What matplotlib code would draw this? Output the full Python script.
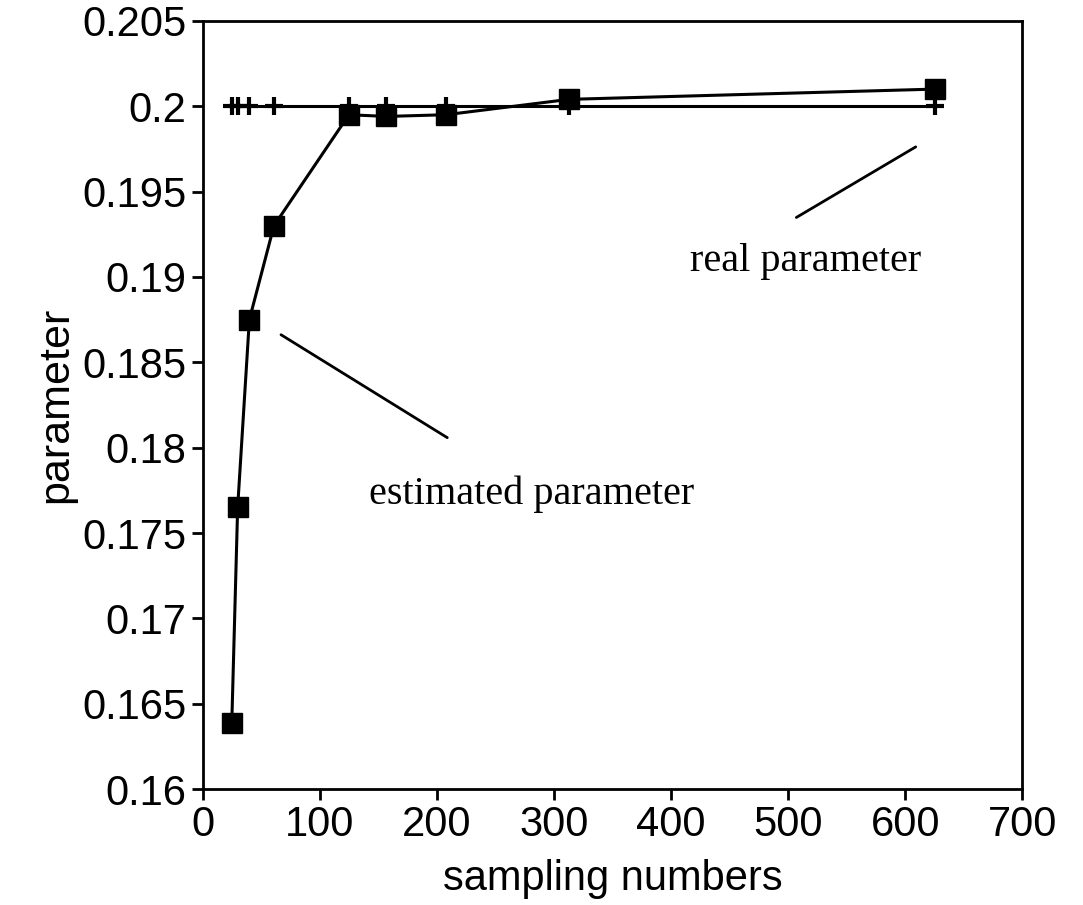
import matplotlib.pyplot as plt
import numpy as np

# sampling numbers (x) shared by both series
sampling = [25, 30, 40, 61, 125, 157, 208, 313, 625]
real_param = [0.2, 0.2, 0.2, 0.2, 0.2, 0.2, 0.2, 0.2, 0.2]
estimated = [0.1639, 0.1765, 0.1875, 0.1930, 0.1995, 0.1994, 0.1995, 0.2004, 0.2010]

x_ticks = [0, 100, 200, 300, 400, 500, 600, 700]
y_ticks = [0.16, 0.165, 0.17, 0.175, 0.18, 0.185, 0.19, 0.195, 0.2, 0.205]
y_tick_labels = ["0.16", "0.165", "0.17", "0.175", "0.18", "0.185",
                 "0.19", "0.195", "0.2", "0.205"]

plt.rcParams["font.family"] = ["Liberation Sans", "DejaVu Sans"]

fig = plt.figure(figsize=(10.83, 9.05), dpi=100)
ax = fig.add_axes([0.187, 0.128, 0.757, 0.849])

ax.plot(sampling, real_param, color="black", linewidth=2.2,
        marker="+", markersize=13, markeredgewidth=3)
ax.plot(sampling, estimated, color="black", linewidth=2.2,
        marker="s", markersize=14)

ax.set_xlim(0, 700)
ax.set_ylim(0.16, 0.205)
ax.set_xticks(x_ticks)
ax.set_yticks(y_ticks)
ax.set_yticklabels(y_tick_labels)
ax.tick_params(direction="out", length=8, width=2, labelsize=30,
               top=False, right=False)
for spine in ax.spines.values():
    spine.set_linewidth(2)

ax.set_xlabel("sampling numbers", fontsize=30, labelpad=10)
ax.set_ylabel("parameter", fontsize=31, labelpad=4)

serif = ["Liberation Serif", "DejaVu Serif"]
ax.annotate("", xy=(611, 0.1977), xytext=(505, 0.1934),
            arrowprops=dict(arrowstyle="-", color="black", lw=2))
ax.text(515, 0.1909, "real parameter", fontsize=29, family=serif,
        ha="center", va="center")

ax.annotate("", xy=(65, 0.1867), xytext=(211, 0.1805),
            arrowprops=dict(arrowstyle="-", color="black", lw=2))
ax.text(281, 0.1773, "estimated parameter", fontsize=29, family=serif,
        ha="center", va="center")

fig.savefig("out.png", dpi=100)
